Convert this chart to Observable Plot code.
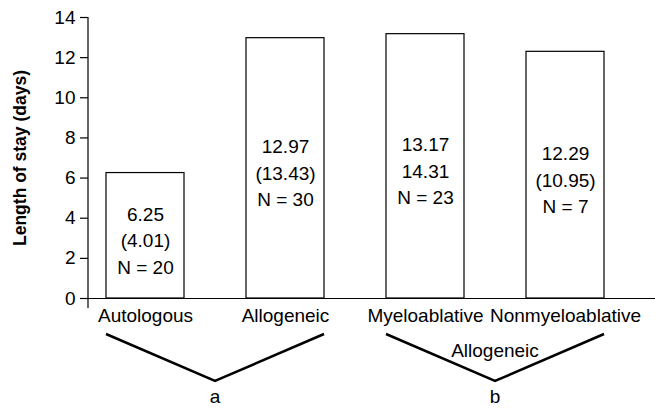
<!DOCTYPE html>
<html><head><meta charset="utf-8">
<script src="https://cdn.jsdelivr.net/npm/d3@7"></script>
<script src="https://cdn.jsdelivr.net/npm/@observablehq/plot@0.6"></script>
<style>
html,body{margin:0;padding:0;background:#fff;}
#chart svg{display:block;}
</style></head><body><div id="chart"></div>
<script>
const categories = ["Autologous", "Allogeneic", "Myeloablative", "Nonmyeloablative"];
const means = [6.25, 12.97, 13.17, 12.29];
const spreads = ["(4.01)", "(13.43)", "14.31", "(10.95)"];
const counts = [20, 30, 23, 7];
const yTicks = [0, 2, 4, 6, 8, 10, 12, 14];
const yLabel = "Length of stay (days)";
const groupFrom = ["Autologous", "Myeloablative"];
const groupTo = ["Allogeneic", "Nonmyeloablative"];
const groupLetters = ["a", "b"];
const groupCaptions = ["", "Allogeneic"];

const bars = categories.map((c, i) => ({
  category: c,
  mean: means[i],
  text: `${means[i].toFixed(2)}\n${spreads[i]}\nN = ${counts[i]}`
}));
const groups = groupFrom.map((f, i) => ({from: f, to: groupTo[i], letter: groupLetters[i], caption: groupCaptions[i]}));

const FONT = "'Liberation Sans', Arial, Helvetica, sans-serif";

function annotations(index, scales, values, dimensions) {
  const x = scales.x, y = scales.y, bw = x.bandwidth();
  const y0 = y(0);
  const g = d3.create("svg:g").attr("font-family", FONT).attr("font-size", 19).attr("fill", "black");
  // y axis line (extends slightly below the baseline)
  g.append("line")
    .attr("x1", dimensions.marginLeft).attr("x2", dimensions.marginLeft)
    .attr("y1", y(14)).attr("y2", y0 + 10)
    .attr("stroke", "black").attr("stroke-width", 1.2);
  for (const gr of groups) {
    const xl = x(gr.from), xr = x(gr.to) + bw, xm = (xl + xr) / 2;
    g.append("path")
      .attr("d", `M${xl},${y0 + 36}L${xm},${y0 + 83}L${xr},${y0 + 36}`)
      .attr("fill", "none").attr("stroke", "black").attr("stroke-width", 2.5);
    g.append("text").attr("x", xm).attr("y", y0 + 105).attr("text-anchor", "middle").text(gr.letter);
    if (gr.caption) {
      g.append("text").attr("x", xm).attr("y", y0 + 59).attr("text-anchor", "middle").text(gr.caption);
    }
  }
  return g.node();
}

const chart = Plot.plot({
  width: 655, height: 411,
  marginLeft: 88, marginRight: 0, marginTop: 17, marginBottom: 113,
  style: {fontFamily: FONT, fontSize: "19px", color: "#000", background: "#fff"},
  x: {type: "band", domain: categories, paddingInner: 0.444, paddingOuter: 0.2435, align: 0.264, label: null},
  y: {domain: [0, 14], label: null},
  marks: [
    Plot.barY(bars, {x: "category", y: "mean", fill: "white", stroke: "black", strokeWidth: 1.2}),
    Plot.text(bars, {x: "category", y: d => d.mean / 2, text: "text", lineHeight: 1.4, fontSize: 19, dy: 3, fill: "black"}),
    Plot.ruleY([0], {stroke: "black", strokeWidth: 1.2}),
    Plot.axisY({ticks: yTicks, tickSize: 8, tickPadding: 5, fontSize: 19, label: null, strokeWidth: 1.2, strokeOpacity: 1}),
    Plot.axisX({tickSize: 0, tickPadding: 10, fontSize: 19, label: null}),
    Plot.text([yLabel], {frameAnchor: "left", textAnchor: "middle", rotate: -90, dx: -68, fontWeight: "bold", fontSize: 17.5, fill: "black"}),
    annotations
  ]
});
document.getElementById("chart").append(chart);
</script>
</body></html>
